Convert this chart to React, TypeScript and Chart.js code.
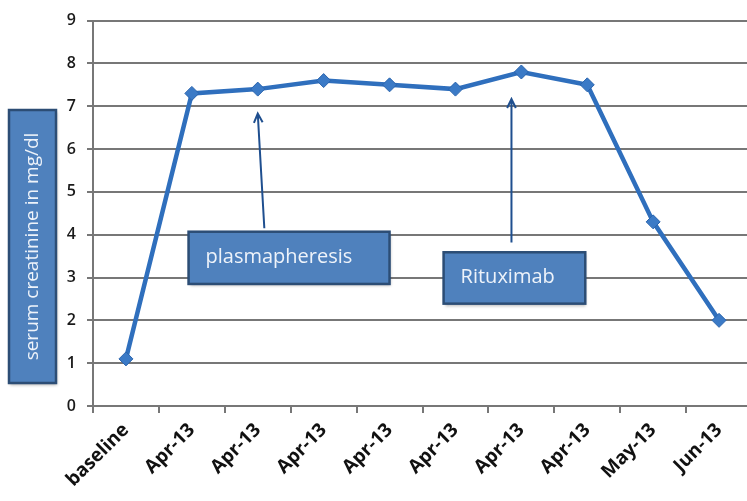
import React, { useEffect, useRef } from "react";
import { Chart, registerables } from "chart.js";

Chart.register(...registerables);

const categories = ["baseline", "Apr-13", "Apr-13", "Apr-13", "Apr-13", "Apr-13", "Apr-13", "Apr-13", "May-13", "Jun-13"];
const creatinine = [1.1, 7.3, 7.4, 7.6, 7.5, 7.4, 7.8, 7.5, 4.3, 2.0];
const yTicks = [0, 1, 2, 3, 4, 5, 6, 7, 8, 9];
const yTitle = "serum creatinine in mg/dl";

// annotations in data units (category index, value)
const annotationLabels = ["plasmapheresis", "Rituximab"];
const arrowFrom = [[2.1, 4.15], [5.85, 3.82]];
const arrowTo = [[2.0, 6.83], [5.85, 7.17]];
const boxX = [[0.95, 4.0], [4.82, 6.97]];
const boxY = [[4.07, 2.85], [3.59, 2.39]];

const FONT = "'Open Sans', 'Noto Sans', sans-serif";

function drawBox(ctx: CanvasRenderingContext2D, x: number, y: number, w: number, h: number) {
  ctx.save();
  ctx.shadowColor = "rgba(0,0,0,0.3)";
  ctx.shadowBlur = 3;
  ctx.shadowOffsetX = 1;
  ctx.shadowOffsetY = 2;
  ctx.fillStyle = "#4f81bd";
  ctx.fillRect(x, y, w, h);
  ctx.restore();
  ctx.save();
  ctx.strokeStyle = "#2c4d75";
  ctx.lineWidth = 2.5;
  ctx.strokeRect(x, y, w, h);
  ctx.restore();
}

const annotationPlugin = {
  id: "annotations",
  afterDraw(chart: any) {
    const ctx: CanvasRenderingContext2D = chart.ctx;
    const xs = chart.scales.x;
    const ys = chart.scales.y;
    for (let i = 0; i < arrowFrom.length; i++) {
      const x1 = xs.getPixelForValue(arrowFrom[i][0]);
      const y1 = ys.getPixelForValue(arrowFrom[i][1]);
      const x2 = xs.getPixelForValue(arrowTo[i][0]);
      const y2 = ys.getPixelForValue(arrowTo[i][1]);
      ctx.save();
      ctx.strokeStyle = "#1f4f8f";
      ctx.lineWidth = 2;
      ctx.beginPath();
      ctx.moveTo(x1, y1);
      ctx.lineTo(x2, y2);
      const ang = Math.atan2(y2 - y1, x2 - x1);
      const hl = 10;
      ctx.moveTo(x2 - hl * Math.cos(ang - 0.45), y2 - hl * Math.sin(ang - 0.45));
      ctx.lineTo(x2, y2);
      ctx.lineTo(x2 - hl * Math.cos(ang + 0.45), y2 - hl * Math.sin(ang + 0.45));
      ctx.stroke();
      ctx.restore();
    }
    for (let i = 0; i < annotationLabels.length; i++) {
      const l = xs.getPixelForValue(boxX[i][0]);
      const r = xs.getPixelForValue(boxX[i][1]);
      const t = ys.getPixelForValue(boxY[i][0]);
      const b = ys.getPixelForValue(boxY[i][1]);
      drawBox(ctx, l, t, r - l, b - t);
      ctx.save();
      ctx.fillStyle = "#eef3fa";
      ctx.font = `500 20px ${FONT}`;
      ctx.textAlign = "left";
      ctx.textBaseline = "middle";
      ctx.fillText(annotationLabels[i], l + 17, (t + b) / 2 - 1);
      ctx.restore();
    }
    const bx = 9, by = 110, bw = 47, bh = 273;
    drawBox(ctx, bx, by, bw, bh);
    ctx.save();
    ctx.translate(bx + bw / 2, by + bh / 2);
    ctx.rotate(-Math.PI / 2);
    ctx.fillStyle = "#eef3fa";
    ctx.font = `500 19px ${FONT}`;
    ctx.textAlign = "center";
    ctx.textBaseline = "middle";
    ctx.fillText(yTitle, 0, 0);
    ctx.restore();
  },
};

export default function App() {
  const ref = useRef<HTMLCanvasElement>(null);
  useEffect(() => {
    if (!ref.current) return;
    const chart = new Chart(ref.current, {
      type: "line",
      data: {
        labels: categories,
        datasets: [
          {
            data: creatinine,
            borderColor: "#2f6fbd",
            borderWidth: 4.5,
            pointStyle: "rectRot",
            pointRadius: 7,
            pointBackgroundColor: "#3b7ac6",
            pointBorderColor: "#2a64ad",
            pointBorderWidth: 1,
            tension: 0,
          },
        ],
      },
      options: {
        responsive: false,
        animation: false,
        layout: { padding: { left: 0, right: 7, top: 16, bottom: 0 } },
        plugins: { legend: { display: false }, tooltip: { enabled: false } },
        scales: {
          x: {
            offset: true,
            grid: { offset: true, drawOnChartArea: false, drawTicks: true, tickLength: 7, color: "#777", lineWidth: 2 },
            border: { display: true, color: "#777", width: 2 },
            ticks: {
              maxRotation: 45,
              minRotation: 45,
              padding: 6,
              color: "#111",
              font: { family: FONT, size: 19, weight: "bold" },
            },
            afterFit(scale: any) {
              scale.height = 95;
            },
          },
          y: {
            min: 0,
            max: 9,
            afterBuildTicks(scale: any) {
              scale.ticks = yTicks.map((v) => ({ value: v }));
            },
            grid: { color: "#777", lineWidth: 2, tickLength: 6 },
            border: { display: true, color: "#777", width: 2 },
            ticks: {
              padding: 11,
              color: "#1a1a1a",
              font: { family: FONT, size: 16, weight: "600" },
            },
            afterFit(scale: any) {
              scale.width = 93;
            },
          },
        },
      },
      plugins: [annotationPlugin],
    });
    return () => chart.destroy();
  }, []);
  return (
    <div style={{ position: "fixed", left: 0, top: 0, width: 747, height: 501, overflow: "hidden", background: "#fff" }}>
      <canvas ref={ref} width={760} height={501} style={{ display: "block" }} />
    </div>
  );
}
